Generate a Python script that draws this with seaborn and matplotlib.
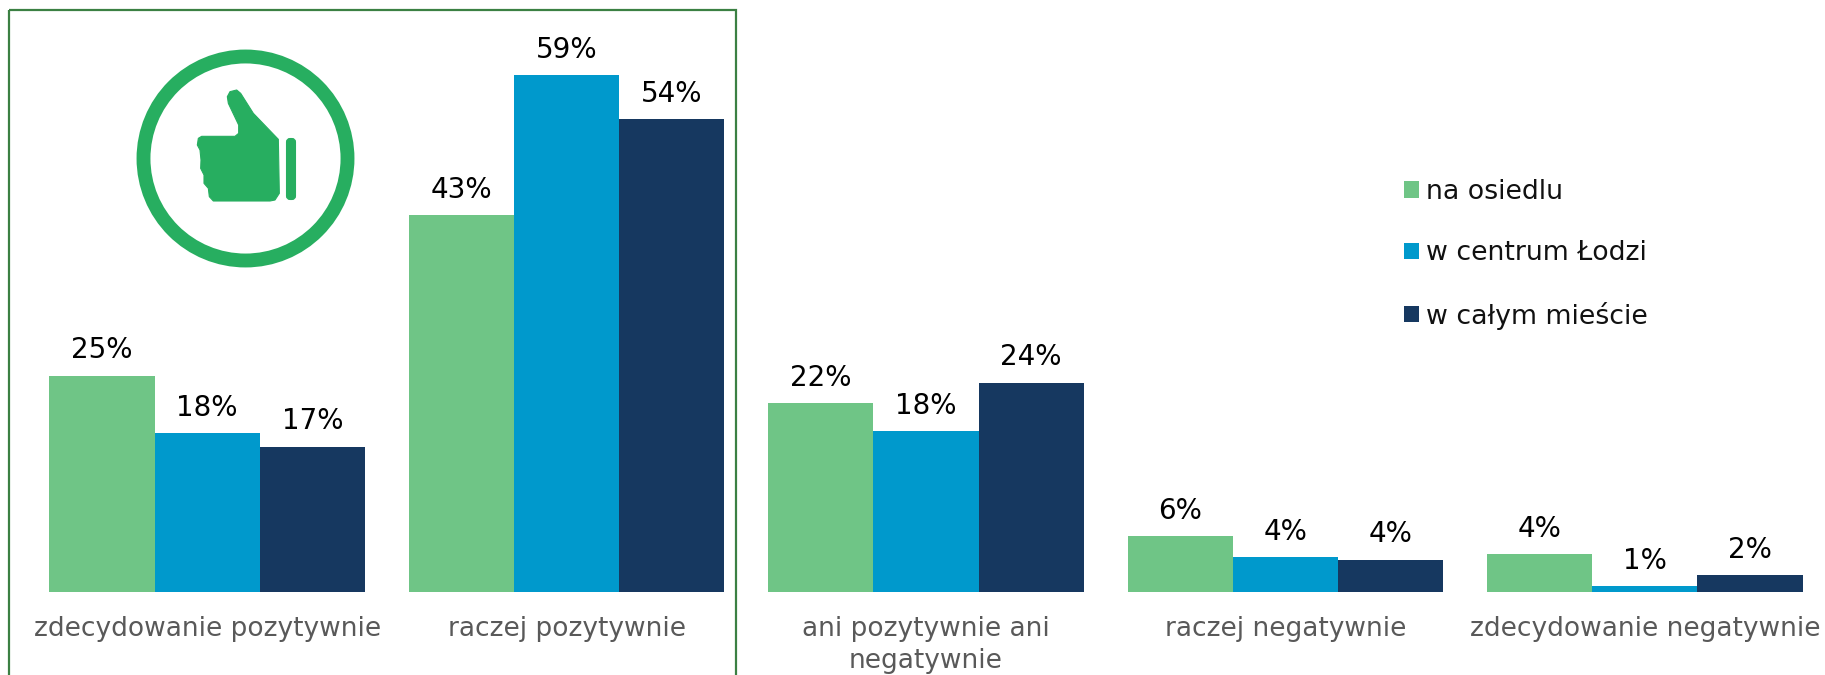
import matplotlib
matplotlib.use('Agg')
import matplotlib.pyplot as plt
from matplotlib.patches import Circle, Polygon, FancyBboxPatch, Rectangle
import pandas as pd
import seaborn as sns

categories = ['zdecydowanie pozytywnie', 'raczej pozytywnie',
              'ani pozytywnie ani\nnegatywnie', 'raczej negatywnie',
              'zdecydowanie negatywnie']
series_names = ['na osiedlu', 'w centrum Łodzi', 'w całym mieście']
na_osiedlu = [24.7, 43.0, 21.6, 6.4, 4.3]
w_centrum = [18.1, 59.0, 18.4, 4.0, 0.7]
w_miescie = [16.6, 54.0, 23.9, 3.7, 1.9]

colors = ['#6FC586', '#0099CC', '#163860']
W, H = 1825, 675

sns.set_theme(style='white')
plt.rcParams['font.family'] = ['DejaVu Sans']

df = pd.DataFrame({
    'category': categories * 3,
    'value': na_osiedlu + w_centrum + w_miescie,
    'series': [s for s in series_names for _ in categories],
})

fig = plt.figure(figsize=(W / 100, H / 100), dpi=100)
# axes placed so that the baseline and group spacing land where the reference has them
ax = fig.add_axes([27.5 / W, (H - 592) / H, 1797 / W, 517 / H])
sns.barplot(data=df, x='category', y='value', hue='series', palette=colors,
            width=0.878, gap=0, saturation=1, linewidth=0, edgecolor='none', ax=ax)
ax.set_ylim(0, 59)
ax.set_xlim(-0.5, 4.5)
ax.patch.set_alpha(0)
sns.despine(ax=ax, left=True, bottom=True)
ax.set_xlabel('')
ax.set_ylabel('')
ax.set_yticks([])
ax.tick_params(axis='x', length=0, pad=17, labelsize=19, labelcolor='#595959')
for lab in ax.get_xticklabels():
    lab.set_linespacing(1.3)
for container in ax.containers:
    ax.bar_label(container, fmt='%.0f%%', padding=8, fontsize=20, color='black')

sns.move_legend(ax, 'upper left', bbox_to_anchor=(1404 / W, 1 - 179 / H),
                bbox_transform=fig.transFigure, title=None, frameon=False,
                fontsize=19.3, handlelength=0.56, handleheight=0.56,
                handletextpad=0.25, labelspacing=1.32, borderpad=0, borderaxespad=0,
                labelcolor='#111111')

# overlay in pixel coordinates for the frame and the thumbs-up icon
ov = fig.add_axes([0, 0, 1, 1], zorder=-1)
ov.set_xlim(0, W)
ov.set_ylim(H, 0)
ov.axis('off')
ov.add_patch(Rectangle((9, 10), 727, H, fill=False, ec='#3B8043', lw=1.6))

icon = '#27AE60'
ov.add_patch(Circle((245.5, 158.5), 102, fill=False, ec=icon, lw=10))
hand = [(682, 290), (690, 275), (710, 270), (722, 280), (760, 340), (835, 418),
        (838, 580), (825, 600), (810, 603), (640, 603), (628, 590), (625, 565),
        (612, 550), (612, 525), (602, 505), (603, 480), (600, 450), (592, 435),
        (595, 415), (605, 409), (705, 409), (716, 400), (716, 375), (685, 310)]
ov.add_patch(Polygon([(x / 3, y / 3) for x, y in hand], fc=icon, ec=icon,
                     lw=0.8, joinstyle='round'))
ov.add_patch(FancyBboxPatch((287, 139), 8, 60, boxstyle='round,pad=0,rounding_size=3',
                            fc=icon, ec=icon, lw=1.5))

fig.savefig('out.png', dpi=100, facecolor='white')
